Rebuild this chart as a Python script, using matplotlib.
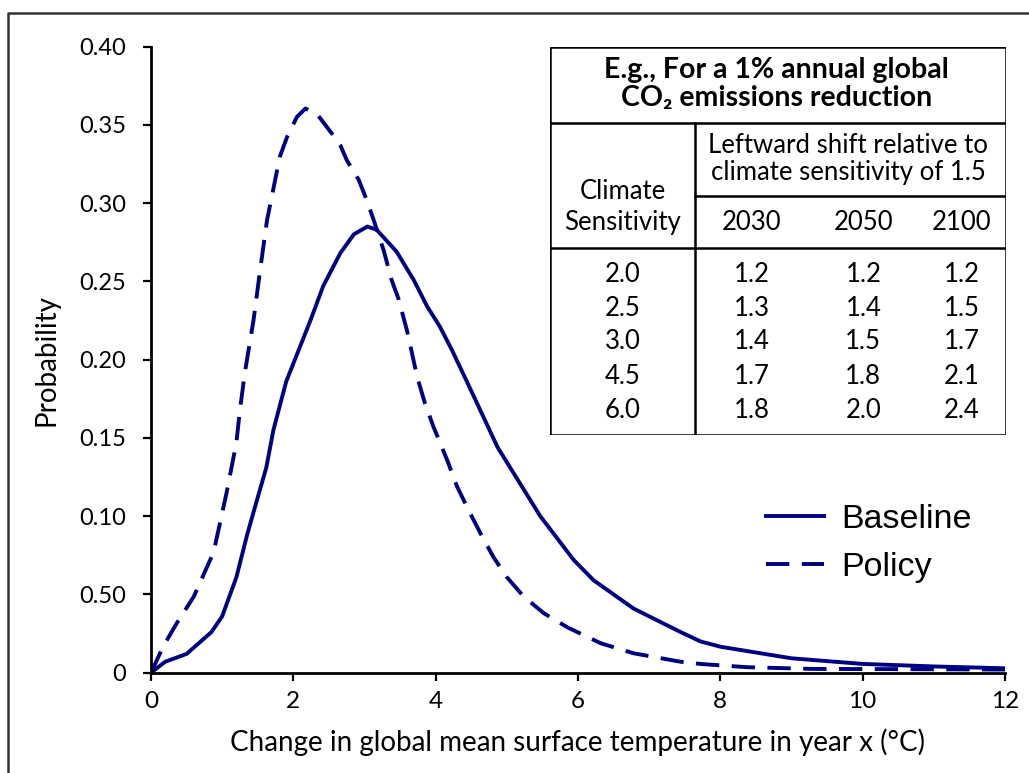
import matplotlib
matplotlib.use("Agg")
import matplotlib.pyplot as plt
from matplotlib.lines import Line2D

# curve values
baseline_x = [0, 0.2, 0.5, 0.85, 1.0, 1.2, 1.35, 1.5, 1.62, 1.72, 1.9, 2.24, 2.42,
              2.66, 2.85, 3.04, 3.17, 3.45, 3.69, 3.88, 4.06, 4.23, 4.49, 4.87,
              5.47, 5.94, 6.22, 6.78, 7.44, 7.72, 8.0, 9.0, 10.0, 11.0, 12.0]
baseline_y = [0, 0.007, 0.012, 0.026, 0.036, 0.061, 0.088, 0.112, 0.131, 0.155,
              0.186, 0.225, 0.247, 0.268, 0.280, 0.285, 0.283, 0.269, 0.251,
              0.234, 0.221, 0.206, 0.181, 0.144, 0.100, 0.072, 0.059, 0.041,
              0.026, 0.020, 0.0166, 0.0092, 0.0056, 0.004, 0.0028]

policy_x = [0, 0.17, 0.36, 0.6, 0.88, 1.06, 1.2, 1.25, 1.32, 1.44, 1.53, 1.63,
            1.71, 1.81, 1.91, 2.05, 2.17, 2.33, 2.54, 2.66, 2.75, 2.92, 3.03,
            3.13, 3.27, 3.38, 3.48, 3.6, 3.74, 3.85, 3.97, 4.16, 4.30, 4.46,
            4.63, 4.81, 5.0, 5.24, 5.52, 5.85, 6.32, 6.78, 7.44, 7.72, 8.38,
            9.31, 10.25, 12.0]
policy_y = [0, 0.0166, 0.0315, 0.0485, 0.077, 0.1145, 0.147, 0.168, 0.192,
            0.225, 0.256, 0.289, 0.307, 0.3296, 0.342, 0.355, 0.3604, 0.357,
            0.3445, 0.337, 0.3275, 0.3147, 0.302, 0.289, 0.2697, 0.251, 0.2385,
            0.218, 0.189, 0.172, 0.157, 0.136, 0.119, 0.104, 0.089, 0.074,
            0.061, 0.0485, 0.038, 0.029, 0.0188, 0.0124, 0.007, 0.0056, 0.0035,
            0.0024, 0.0023, 0.002]

x_ticks = [0, 2, 4, 6, 8, 10, 12]
y_ticks = [0, 0.05, 0.10, 0.15, 0.20, 0.25, 0.30, 0.35, 0.40]
y_tick_labels = ["0", "0.50", "0.10", "0.15", "0.20", "0.25", "0.30", "0.35", "0.40"]

# inset table
sensitivity = ["2.0", "2.5", "3.0", "4.5", "6.0"]
years = ["2030", "2050", "2100"]
shift_2030 = [1.2, 1.3, 1.4, 1.7, 1.8]
shift_2050 = [1.2, 1.4, 1.5, 1.8, 2.0]
shift_2100 = [1.2, 1.5, 1.7, 2.1, 2.4]

navy = "#000080"
calibri = ["Lato", "DejaVu Sans"]

W, H = 1029, 773
fig = plt.figure(figsize=(W / 100, H / 100), dpi=100)

# partial frame around the picture (left and top edges only)
fig.add_artist(Line2D([8 / W, 8 / W, 1], [0, 1 - 13 / H, 1 - 13 / H],
                      transform=fig.transFigure, color="#333333", lw=1.8))

ax = fig.add_axes([151 / W, 1 - 672.7 / H, (1005 - 151) / W, (672.7 - 46.5) / H])
ax.plot(baseline_x, baseline_y, color=navy, lw=2.8, label="Baseline",
        solid_joinstyle="round")
ax.plot(policy_x, policy_y, color=navy, lw=2.8, dashes=(6, 3.2), label="Policy")

ax.set_xlim(0, 12)
ax.set_ylim(0, 0.40)
ax.set_xticks(x_ticks)
ax.set_xticklabels([str(t) for t in x_ticks], family=calibri, fontsize=17.5)
ax.set_yticks(y_ticks)
ax.set_yticklabels(y_tick_labels, family=calibri, fontsize=17)
ax.tick_params(direction="out", length=6, width=1.6, color="black")
ax.tick_params(axis="y", pad=12)
ax.tick_params(axis="x", pad=7)
for side in ["top", "right"]:
    ax.spines[side].set_visible(False)
for side in ["left", "bottom"]:
    ax.spines[side].set_linewidth(2)

ax.set_xlabel("Change in global mean surface temperature in year x (°C)",
              family=calibri, fontsize=20, labelpad=12)
ax.set_ylabel("Probability", family=calibri, fontsize=20, labelpad=14)

ax.legend(loc="center left", bbox_to_anchor=(766 / W, 1 - 543.5 / H),
          bbox_transform=fig.transFigure, frameon=False, borderpad=0,
          borderaxespad=0, handlelength=1.7, handletextpad=0.52,
          labelspacing=0.5, prop={"family": "Liberation Sans", "size": 24.5})

# table drawn in its own axes, coordinates in pixels from its top-left corner
tl, tt, tr, tb = 550, 46.7, 1005.7, 435
tw, th = tr - tl, tb - tt
tax = fig.add_axes([tl / W, 1 - tb / H, tw / W, th / H])
tax.set_xlim(0, tw)
tax.set_ylim(th, 0)
tax.axis("off")
tax.add_patch(plt.Rectangle((0, 0), tw, th, facecolor="white", edgecolor="none"))

lk = dict(color="black", lw=1.8, solid_capstyle="projecting")
title_bot, sub_line, head_bot, col_sep = 76.6, 149, 201.6, 145
tax.plot([0, tw, tw, 0, 0], [0, 0, th, th, 0], **lk)
tax.plot([0, tw], [title_bot, title_bot], **lk)
tax.plot([col_sep, tw], [sub_line, sub_line], **lk)
tax.plot([0, tw], [head_bot, head_bot], **lk)
tax.plot([col_sep, col_sep], [title_bot, th], **lk)

tk = dict(family=calibri, fontsize=18.5, ha="center", va="center")
tax.text(226.7, 37.5, "E.g., For a 1% annual global\nCO₂ emissions reduction",
         family=calibri, fontsize=20.5, ha="center", va="center",
         fontweight="bold", linespacing=1.08)
tax.text(298, 112.5, "Leftward shift relative to\nclimate sensitivity of 1.5",
         linespacing=1.08, **tk)
tax.text(72.7, 160, "Climate\nSensitivity", linespacing=1.3, **tk)
year_x = [201.7, 313.3, 411.7]
for yx, yr in zip(year_x, years):
    tax.text(yx, 176, yr, **tk)

row_y = [228.3, 261.6, 295, 330, 363.3]
for i, ry in enumerate(row_y):
    tax.text(72.7, ry, sensitivity[i], **tk)
    for yx, col in zip(year_x, [shift_2030, shift_2050, shift_2100]):
        tax.text(yx, ry, f"{col[i]:.1f}", **tk)

fig.savefig("out.png", dpi=100)
